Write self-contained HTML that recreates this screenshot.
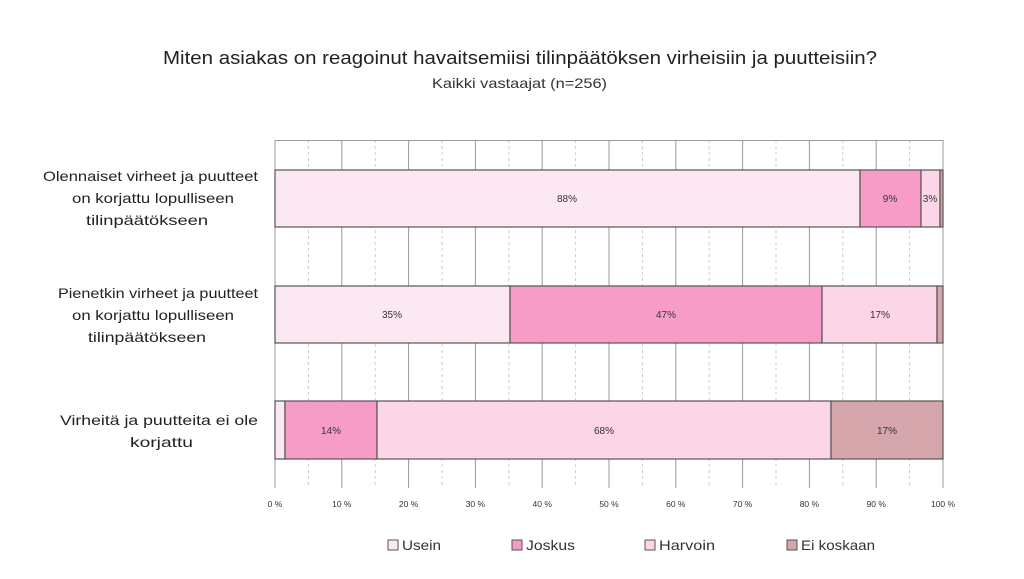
<!DOCTYPE html>
<html><head><meta charset="utf-8"><style>
body{margin:0;background:#fff;}
svg{display:block;font-family:"Liberation Sans",sans-serif;}
</style></head><body>
<svg width="1024" height="579" viewBox="0 0 1024 579">
<text x="163" y="64" font-size="18" fill="#222" textLength="714" lengthAdjust="spacingAndGlyphs">Miten asiakas on reagoinut havaitsemiisi tilinpäätöksen virheisiin ja puutteisiin?</text>
<text x="432" y="88" font-size="14" fill="#333" textLength="175" lengthAdjust="spacingAndGlyphs">Kaikki vastaajat (n=256)</text>
<g stroke="#ccc" stroke-dasharray="3,3" stroke-width="1">
<line x1="308.4" y1="140" x2="308.4" y2="488"/><line x1="375.2" y1="140" x2="375.2" y2="488"/><line x1="442" y1="140" x2="442" y2="488"/><line x1="508.8" y1="140" x2="508.8" y2="488"/><line x1="575.6" y1="140" x2="575.6" y2="488"/><line x1="642.4" y1="140" x2="642.4" y2="488"/><line x1="709.2" y1="140" x2="709.2" y2="488"/><line x1="776" y1="140" x2="776" y2="488"/><line x1="842.8" y1="140" x2="842.8" y2="488"/><line x1="909.6" y1="140" x2="909.6" y2="488"/>
</g>
<g stroke="#999" stroke-width="1">
<line x1="275" y1="140.5" x2="943" y2="140.5"/>
<line x1="275" y1="140" x2="275" y2="488"/><line x1="341.8" y1="140" x2="341.8" y2="488"/><line x1="408.6" y1="140" x2="408.6" y2="488"/><line x1="475.4" y1="140" x2="475.4" y2="488"/><line x1="542.2" y1="140" x2="542.2" y2="488"/><line x1="609" y1="140" x2="609" y2="488"/><line x1="675.8" y1="140" x2="675.8" y2="488"/><line x1="742.6" y1="140" x2="742.6" y2="488"/><line x1="809.4" y1="140" x2="809.4" y2="488"/><line x1="876.2" y1="140" x2="876.2" y2="488"/><line x1="943" y1="140" x2="943" y2="488"/>
</g>
<g stroke="#555" stroke-width="1.2">
<rect x="275" y="170" width="585" height="57" fill="#fce8f2"/>
<rect x="860" y="170" width="61" height="57" fill="#f79cc7"/>
<rect x="921" y="170" width="19" height="57" fill="#fcd5e7"/>
<rect x="940" y="170" width="3" height="57" fill="#d4a5ab"/>
<rect x="275" y="286" width="235" height="57" fill="#fce8f2"/>
<rect x="510" y="286" width="312" height="57" fill="#f79cc7"/>
<rect x="822" y="286" width="115" height="57" fill="#fcd5e7"/>
<rect x="937" y="286" width="6" height="57" fill="#d4a5ab"/>
<rect x="275" y="401" width="10" height="58" fill="#fce8f2"/>
<rect x="285" y="401" width="92" height="58" fill="#f79cc7"/>
<rect x="377" y="401" width="454" height="58" fill="#fcd5e7"/>
<rect x="831" y="401" width="112" height="58" fill="#d4a5ab"/>
</g>
<g font-size="10" fill="#333" text-anchor="middle">
<text x="567" y="202">88%</text><text x="890" y="202">9%</text><text x="930" y="202">3%</text>
<text x="392" y="318">35%</text><text x="666" y="318">47%</text><text x="880" y="318">17%</text>
<text x="331" y="434">14%</text><text x="604" y="434">68%</text><text x="887" y="434">17%</text>
</g>
<g font-size="14" fill="#222" lengthAdjust="spacingAndGlyphs">
<text x="43" y="181" textLength="215" lengthAdjust="spacingAndGlyphs">Olennaiset virheet ja puutteet</text>
<text x="72" y="203" textLength="162" lengthAdjust="spacingAndGlyphs">on korjattu lopulliseen</text>
<text x="86" y="225" textLength="122" lengthAdjust="spacingAndGlyphs">tilinpäätökseen</text>
<text x="58" y="298" textLength="200" lengthAdjust="spacingAndGlyphs">Pienetkin virheet ja puutteet</text>
<text x="72" y="320" textLength="162" lengthAdjust="spacingAndGlyphs">on korjattu lopulliseen</text>
<text x="88" y="342" textLength="118" lengthAdjust="spacingAndGlyphs">tilinpäätökseen</text>
<text x="60" y="425" textLength="198" lengthAdjust="spacingAndGlyphs">Virheitä ja puutteita ei ole</text>
<text x="130" y="447" textLength="63" lengthAdjust="spacingAndGlyphs">korjattu</text>
</g>
<g font-size="8.5" fill="#333" text-anchor="middle">
<text x="275" y="507">0 %</text><text x="341.8" y="507">10 %</text><text x="408.6" y="507">20 %</text><text x="475.4" y="507">30 %</text><text x="542.2" y="507">40 %</text><text x="609" y="507">50 %</text><text x="675.8" y="507">60 %</text><text x="742.6" y="507">70 %</text><text x="809.4" y="507">80 %</text><text x="876.2" y="507">90 %</text><text x="943" y="507">100 %</text>
</g>
<g font-size="14" fill="#333" stroke-width="1">
<rect x="388" y="540" width="10" height="10" fill="#fce8f2" stroke="#555"/><text x="402" y="550" textLength="39" lengthAdjust="spacingAndGlyphs">Usein</text>
<rect x="512" y="540" width="10" height="10" fill="#f79cc7" stroke="#555"/><text x="526" y="550" textLength="49" lengthAdjust="spacingAndGlyphs">Joskus</text>
<rect x="645" y="540" width="10" height="10" fill="#fcd5e7" stroke="#555"/><text x="659" y="550" textLength="56" lengthAdjust="spacingAndGlyphs">Harvoin</text>
<rect x="787" y="540" width="10" height="10" fill="#d4a5ab" stroke="#555"/><text x="801" y="550" textLength="74" lengthAdjust="spacingAndGlyphs">Ei koskaan</text>
</g>
</svg>
</body></html>
